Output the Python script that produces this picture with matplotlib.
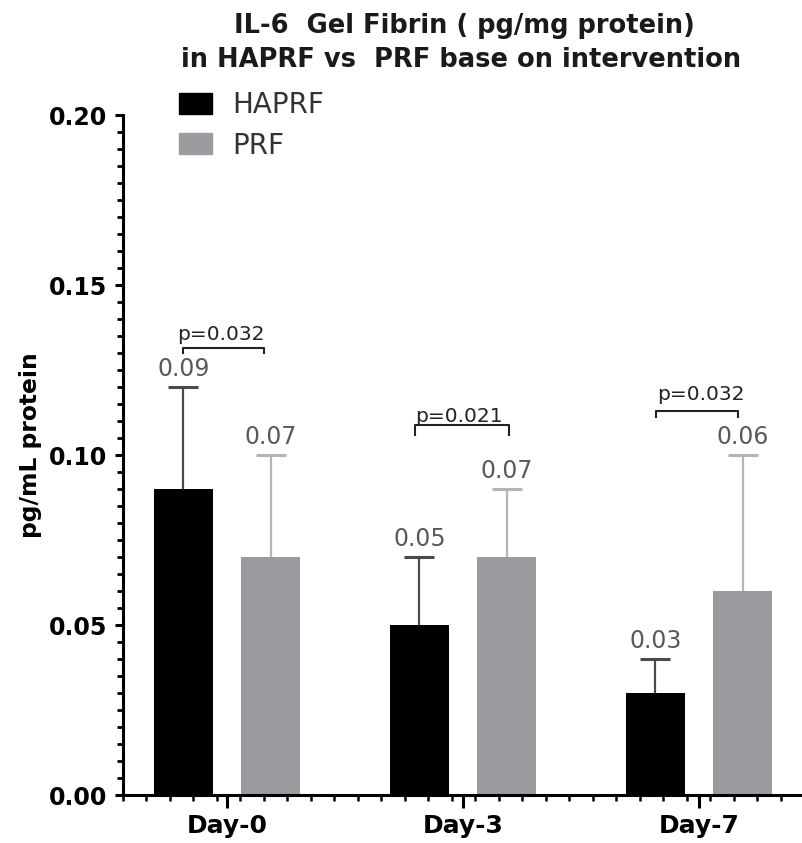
import numpy as np
import matplotlib
matplotlib.use("Agg")
import matplotlib.pyplot as plt
from matplotlib.patches import Patch
from matplotlib.ticker import MultipleLocator, FixedLocator

# --- dati ---
days = ["Day-0", "Day-3", "Day-7"]
haprf = [0.09, 0.05, 0.03]
haprf_err = [0.03, 0.02, 0.01]
prf = [0.07, 0.07, 0.06]
prf_err = [0.03, 0.02, 0.04]
p_values = ["p=0.032", "p=0.021", "p=0.032"]

# posizione delle parentesi (relativa al centro del gruppo) e altezza
bracket_x = [(-0.186, 0.157), (-0.203, 0.195), (-0.182, 0.165)]
bracket_y = [0.1315, 0.1088, 0.1129]
bracket_drop = [0.0015, 0.0029, 0.0017]
ptext_dx = [-0.025, -0.019, 0.008]
ptext_y = [0.1338, 0.1097, 0.1162]

black = "#000000"
gray = "#9b9a9f"

fig = plt.figure(figsize=(8.03, 8.43), dpi=100)
ax = fig.add_axes([0.1528, 0.0569, 0.8472, 0.8066])

x = np.arange(len(days))
off = 0.185
w = 0.25

ax.bar(x - off, haprf, w, color=black, zorder=2)
ax.bar(x + off, prf, w, color=gray, zorder=2)


# barre d'errore solo verso l'alto (senza il cappuccio inferiore)
def upper_errorbar(xs, ys, err, col):
    _, caps, _ = ax.errorbar(xs, ys, yerr=[np.zeros(len(ys)), err], fmt="none",
                             ecolor=col, elinewidth=1.6, capsize=11,
                             capthick=2.2, zorder=1)
    caps[0].set_visible(False)


upper_errorbar(x - off, haprf, haprf_err, "#4a4a4a")
upper_errorbar(x + off, prf, prf_err, "#b5b5b5")

# etichette dei valori
for i in range(len(days)):
    ax.annotate("%.2f" % haprf[i], (x[i] - off, haprf[i] + haprf_err[i]),
                xytext=(0, 4), textcoords="offset points", ha="center",
                va="bottom", fontsize=17, color="#5a5a5a")
    ax.annotate("%.2f" % prf[i], (x[i] + off, prf[i] + prf_err[i]),
                xytext=(0, 4), textcoords="offset points", ha="center",
                va="bottom", fontsize=17, color="#5a5a5a")

# parentesi con p-value
for i in range(len(days)):
    x0 = x[i] + bracket_x[i][0]
    x1 = x[i] + bracket_x[i][1]
    y = bracket_y[i]
    d = bracket_drop[i]
    ax.plot([x0, x0, x1, x1], [y - d, y, y, y - d], color="#222222", lw=1.5,
            clip_on=False)
    ax.text(x[i] + ptext_dx[i], ptext_y[i], p_values[i], ha="center",
            va="baseline", fontsize=14.5, color="#222222")

ax.set_xlim(-0.442, 2.44)
ax.set_ylim(0, 0.20)
ax.set_xticks(x)
ax.set_xticklabels(days, fontsize=18, fontweight="bold")
ax.xaxis.set_minor_locator(FixedLocator(np.arange(-0.442, 2.44, 0.0996)))
ax.yaxis.set_major_locator(MultipleLocator(0.05))
ax.yaxis.set_minor_locator(MultipleLocator(0.005))
ax.set_yticklabels(["%.2f" % v for v in ax.get_yticks()], fontsize=17,
                   fontweight="bold")

for s in ["top", "right"]:
    ax.spines[s].set_visible(False)
for s in ["left", "bottom"]:
    ax.spines[s].set_linewidth(2.2)

ax.tick_params(axis="y", which="major", length=6, width=2.2, pad=5)
ax.tick_params(axis="y", which="minor", length=4, width=2.0)
ax.tick_params(axis="x", which="major", length=9, width=2.2, pad=5)
ax.tick_params(axis="x", which="minor", length=4, width=1.8)

fig.text(31 / 803, 1 - 445 / 843, "pg/mL protein", rotation=90, ha="center",
         va="center", fontsize=16.8, fontweight="bold")

fig.text(464 / 803, 1 - 33 / 843, "IL-6  Gel Fibrin ( pg/mg protein)",
         ha="center", va="baseline", fontsize=18.5, fontweight="bold",
         color="#1a1a1a")
fig.text(461 / 803, 1 - 67 / 843, "in HAPRF vs  PRF base on intervention",
         ha="center", va="baseline", fontsize=18.5, fontweight="bold",
         color="#1a1a1a")

handles = [Patch(color=black, label="HAPRF"), Patch(color=gray, label="PRF")]
fig.legend(handles=handles, loc="upper left",
           bbox_to_anchor=(179 / 803, 1 - 91 / 843), frameon=False,
           fontsize=20, handlelength=1.2, handleheight=0.8,
           handletextpad=0.7, labelspacing=0.45, borderpad=0,
           borderaxespad=0, labelcolor="#333333")

fig.savefig("out.png", dpi=100)
